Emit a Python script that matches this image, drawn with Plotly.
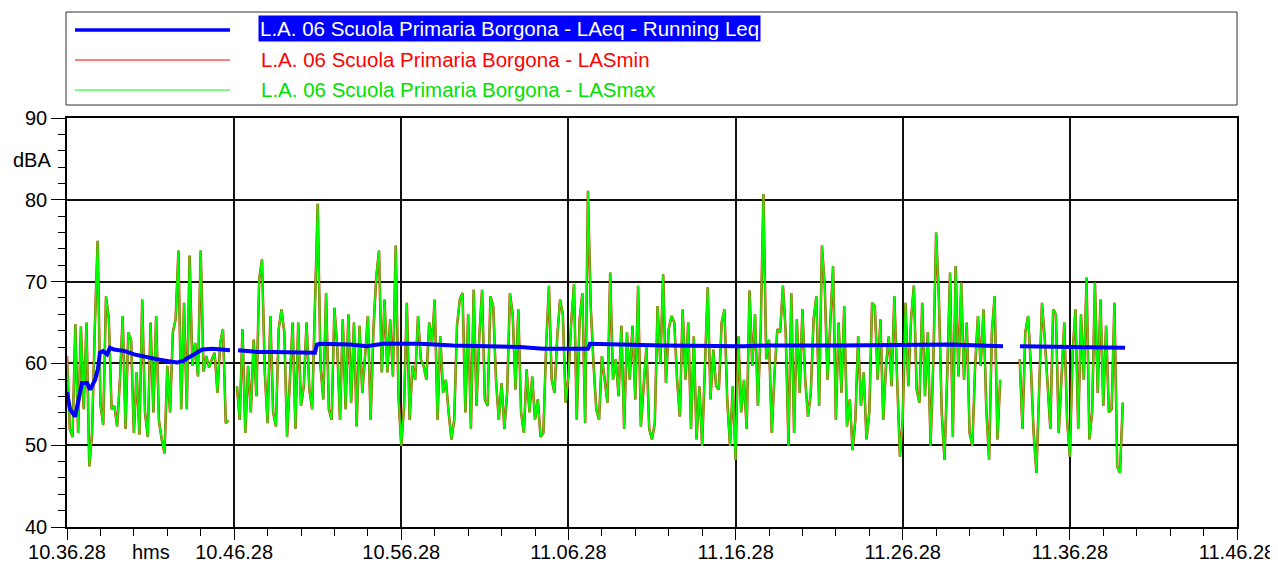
import plotly.graph_objects as go
import pandas as pd

# ---------------- data ----------------
START = "2024-01-01 10:36:28"
END = "2024-01-01 11:46:28"
STEP = "10s"

seg1 = [60.9, 52, 51, 64.8, 51.5, 64.5, 54.4, 65, 47.4, 51.5, 64.6, 75, 55, 52.5, 68.2, 65.5, 54.4, 54.8, 52.3, 58,
        65.8, 52, 63.8, 62.9, 51.5, 58.9, 51.3, 67.8, 54, 51, 65, 54, 65.8, 53, 50.7, 49, 59.7, 54, 63.8, 65.4,
        73.8, 54.4]
seg2 = [67.4, 54.4, 73.2, 59.7, 62.5, 58.4, 73.8, 59, 60.9, 59.5, 60.5, 61.3, 56.4, 62.5, 64.2, 52.7, 53, None, None,
        57.2, 53.1, 64.2, 51.5, 59.7, 54, 62.9, 56, 70.3, 72.7, 58.9, 52.7, 65.8, 54, 52.3, 64.2, 66.6, 63.8, 51, 58,
        65, 52, 65, 54.8]
seg3 = [57.2, 65, 56.8, 54.4, 66, 79.5, 59.7, 55.6, 68.6, 54.4, 53.1, 66.8, 62, 53.1, 65.4, 54.4, 66, 55.2, 65, 52.3,
        64.6, 56.4, 60.9, 65.8, 53.1, 64.2, 70.5, 73.8, 58.9, 67.8, 58.9, 65.4, 58.4, 74.4, 56, 49.9, 54.8, 67.4,
        53.1, 59.7, 58, 65.8, 60.5]
seg4 = [59.7, 58, 65, 62.5, 67.8, 53.1, 63.3, 56.4, 58, 54, 50.7, 53.1, 64.6, 67.8, 68.6, 54, 66, 52, 69, 54.8,
        63.3, 69, 55.6, 54.8, 68.2, 67, 58, 53.1, 57.6, 52, 56.4, 68.6, 66, 56.8, 66.6, 54, 51.5, 59.3, 54, 58.4,
        53.1, 55.6, 51]
seg5 = [51.5, 62.1, 69.5, 58, 56.4, 63.3, 67.8, 66, 55.2, 58.4, 65, 69.7, 53.1, 65.4, 68.6, 52.7, 81.1, 67, 60, 54.4,
        53.1, 60.9, 58, 55.2, 71.1, 58, 60.5, 56, 64.6, 52, 63.8, 58, 64.6, 55.6, 69.5, 52.3, 57.2, 62.1, 52, 50.7,
        52.7, 67, 60]
seg6 = [70.9, 57.6, 64.2, 65.8, 65, 58, 53.5, 66.6, 58, 65, 52, 63.3, 50.7, 57.2, 49.9, 59.7, 69.3, 55.6, 61.7, 57.2,
        56.8, 65, 66.6, 55.6, 49.9, 57.2, 48.2, 63.3, 54, 58, 52, 68.9, 59.7, 66, 54.8, 63.8, 80.7, 60.5, 62.9, 51.5,
        58.9, 64.2, 63.8]
seg7 = [69.5, 63.8, 49.9, 68.6, 51.5, 65.4, 56.4, 66.6, 58, 53.5, 56.4, 65.4, 68.2, 54.8, 74.4, 69.5, 58, 65.4, 71.9,
        53.1, 65, 56.4, 67, 52.3, 55.6, 49.4, 53.1, 63.3, 54.8, 58.9, 50.7, 54, 67.4, 67, 58, 65.4, 53.1, 59.7, 63.3,
        57.2, 68.2, 58, 48.6]
seg8 = [53.1, 67.4, 57.2, 65.4, 69.5, 56.8, 55.2, 67.4, 56, 63.8, 49.9, 60.5, 76, 67.8, 54, 48.2, 58.9, 71.1, 51,
        71.9, 58.4, 69.9, 58, 65, 51.5, 49.9, 59.7, 65.8, 59.7, 66.6, 54.4, 48.2, 63.8, 68.2, 50.7, 58, None, None,
        None, None, None, None, 60.5]
seg9 = [52, 63.8, 65.8, 59.7, 51.5, 46.6, 58, 67.4, 62.9, 57.2, 52, 66.6, 66, 51.5, 58, 65, 53.1, 48.6, 61.3, 66.6,
        52, 66, 58, 70.5, 50.7, 54, 69.9, 56.4, 67.8, 54.8, 64.6, 54, 54.4, 67.4, 47.4, 46.6, 55.2]

las_max = seg1 + seg2 + seg3 + seg4 + seg5 + seg6 + seg7 + seg8 + seg9
las_min = list(las_max)

leq_t_s = [0, 11, 29, 47, 54, 72, 83, 101, 111, 118, 129, 144, 154, 169, 208, 241, 287, 323, 359, 395, 416, 431,
           470, 485, 524, 585, 596, 614, 682, 739, 854, 890, 897, 908, 1016, 1077, 1134, 1267, 1386, 1508, 1626,
           1709, 1870, 1877, 1996, 2139, 2427, 2524, 2775, 3170, 3360, 3385, 3421, 3626, 3798]
leq_db = [56.5, 54.4, 53.5, 56.4, 57.6, 57.6, 56.8, 58, 59.3, 61.3, 61.5, 61.1, 61.9, 61.7, 61.5, 61.1, 60.7, 60.5,
          60.3, 60.1, 60.3, 60.6, 61.3, 61.7, 61.8, 61.6, None, 61.6, 61.4, 61.4, 61.3, 61.3, 62.3, 62.4, 62.3, 62.1,
          62.4, 62.4, 62.2, 62.1, 62.0, 61.8, 61.8, 62.4, 62.3, 62.2, 62.1, 62.2, 62.2, 62.3, 62.1, None, 62.1, 62.0,
          61.9]

legend_names = ["L.A. 06 Scuola Primaria Borgona - LAeq - Running Leq",
                "L.A. 06 Scuola Primaria Borgona - LASmin",
                "L.A. 06 Scuola Primaria Borgona - LASmax"]

# ---------------- figure ----------------
t = pd.date_range(START, periods=len(las_max), freq=STEP)
leq_t = pd.to_datetime(START) + pd.to_timedelta(leq_t_s, unit="s")

BLUE, RED, GREEN = "#0000ff", "#ff0000", "#00ff00"
FONT = "Liberation Sans, Arial, sans-serif"

# page body has an 8px margin, so the figure is drawn 8px right/down of the window origin
OFF = 8
W, H = 1278 - OFF, 564 - OFF
SL, SR, ST, SB = 67, 1237, 118, 527          # wanted plot box, in window pixels
L, R, T, B = SL - OFF, SR - OFF, ST - OFF, SB - OFF


def px(x):
    return (x - SL) / (SR - SL)


def py(y):
    return (SB - y) / (SB - ST)


fig = go.Figure()
fig.add_trace(go.Scatter(x=t, y=las_min, mode="lines", line=dict(color=RED, width=2.5),
                         name=legend_names[1], showlegend=False))
fig.add_trace(go.Scatter(x=t, y=las_max, mode="lines", line=dict(color=GREEN, width=1.9),
                         name=legend_names[2], showlegend=False))
fig.add_trace(go.Scatter(x=leq_t, y=leq_db, mode="lines", line=dict(color=BLUE, width=4),
                         name=legend_names[0], showlegend=False))

shapes = [dict(type="rect", xref="paper", yref="paper", x0=px(66), x1=px(1237), y0=py(105), y1=py(12),
               line=dict(color="#333333", width=1), fillcolor="rgba(0,0,0,0)")]
legend_rows = [(30, BLUE, 3.5), (60, RED, 1.2), (90, "#55ff55", 1.5)]
for yy, col, wd in legend_rows:
    shapes.append(dict(type="line", xref="paper", yref="paper", x0=px(75), x1=px(230), y0=py(yy), y1=py(yy),
                       line=dict(color=col, width=wd)))

LEG_SIZE = 20.5
annotations = [
    dict(xref="paper", yref="paper", x=px(258), y=py(28), xanchor="left", yanchor="middle", showarrow=False,
         text=legend_names[0], font=dict(family=FONT, size=LEG_SIZE, color="white"), bgcolor=BLUE, borderpad=1),
    dict(xref="paper", yref="paper", x=px(259), y=py(59), xanchor="left", yanchor="middle", showarrow=False,
         text=legend_names[1], font=dict(family=FONT, size=LEG_SIZE, color=RED)),
    dict(xref="paper", yref="paper", x=px(259), y=py(90), xanchor="left", yanchor="middle", showarrow=False,
         text=legend_names[2], font=dict(family=FONT, size=LEG_SIZE, color="#00e000")),
    dict(xref="paper", yref="paper", x=px(151), y=py(552), xanchor="center", yanchor="middle", showarrow=False,
         text="hms", font=dict(family=FONT, size=20, color="black")),
    dict(xref="paper", yref="paper", x=px(32), y=py(160), xanchor="center", yanchor="middle", showarrow=False,
         text="dBA", font=dict(family=FONT, size=20, color="black")),
]

fig.update_layout(
    width=W, height=H,
    margin=dict(l=L, r=W - R, t=T, b=H - B, pad=0, autoexpand=False),
    paper_bgcolor="white", plot_bgcolor="white",
    showlegend=False,
    font=dict(family=FONT, size=20, color="black"),
    shapes=shapes, annotations=annotations,
    xaxis=dict(type="date", range=[START, END], tick0=START, dtick=600000, tickformat="%H.%M.%S",
               automargin=False, ticklabelstandoff=-5,
               showgrid=True, gridcolor="#111111", gridwidth=1.5,
               showline=True, linecolor="black", linewidth=1.5, mirror=True,
               ticks="outside", ticklen=11, tickcolor="black", tickwidth=1,
               minor=dict(dtick=120000, tick0=START, ticks="outside", ticklen=7, tickcolor="black",
                          showgrid=False),
               zeroline=False, tickfont=dict(family=FONT, size=20, color="black")),
    yaxis=dict(range=[40, 90], tick0=40, dtick=10, automargin=False,
               showgrid=True, gridcolor="#111111", gridwidth=1.5,
               showline=True, linecolor="black", linewidth=1.5, mirror=True,
               ticks="outside", ticklen=14, tickcolor="black", tickwidth=1,
               minor=dict(dtick=2, ticks="outside", ticklen=7, tickcolor="black", showgrid=False),
               zeroline=False, tickfont=dict(family=FONT, size=20, color="black")),
)

fig.write_html("out.html")
